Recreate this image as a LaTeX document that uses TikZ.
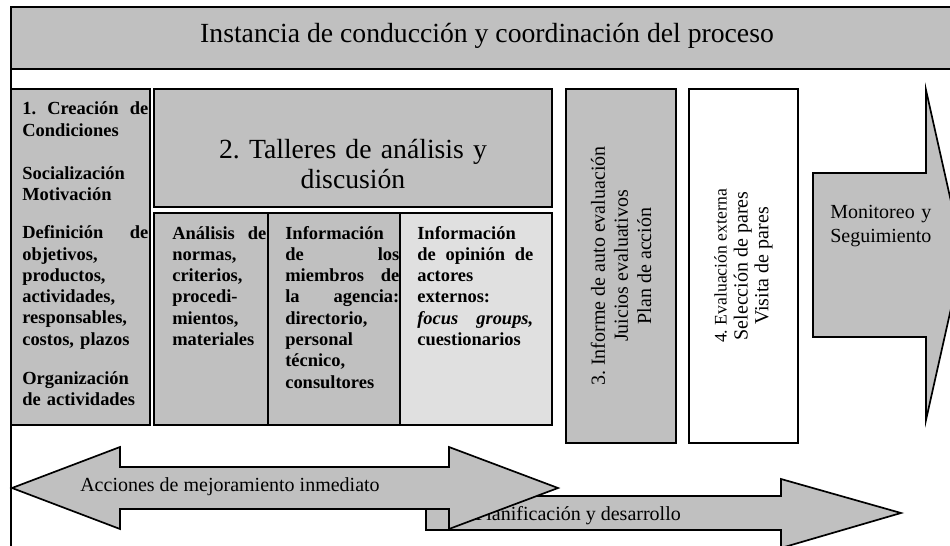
\documentclass[tikz,border=0pt]{standalone}
\usepackage{fontspec}
\setmainfont{Liberation Serif}
\usepackage{tikz}
\definecolor{boxgray}{RGB}{192,192,192}
\definecolor{palegray}{RGB}{224,224,224}
\frenchspacing
% justified line spread over the full text width
\newcommand{\spreadline}[1]{\makebox[\linewidth][s]{\spaceskip=0.25em plus 1fil\relax #1}}

\begin{document}
\begin{tikzpicture}[x=0.65pt, y=-0.65pt,
        panel/.style={line width=1.1pt, fill=boxgray},
        bigarrow/.style={line width=1.1pt, fill=boxgray, line join=miter},
        boldtext/.style={anchor=base west, inner sep=0pt, align=left, font=\fontsize{12}{13.85}\selectfont\bfseries},
        plaintext/.style={inner sep=0pt, font=\fontsize{13}{15}\selectfont}]

        \useasboundingbox (0,0) rectangle (950,546);
        \clip (0,0) rectangle (950,546);

        % Coordination banner and frame line
        \draw[panel] (11,7) rectangle (965,69);
        \node[anchor=base, inner sep=0pt, font=\fontsize{18}{20}\selectfont] (banner) at (487,43) {Instancia de conducción y coordinación del proceso};
        \draw[line width=1.1pt] (11,69) -- (11,546);

        % 1. Conditions
        \draw[panel] (11,89) rectangle (150,425);
        \node[boldtext, text width=81.9pt] (conditions) at (22,115) {\spreadline{1. Creación de}\\ Condiciones\\[14pt] Socialización\\ Motivación\\[11pt] \spreadline{Definición de}\\ objetivos,\\ productos,\\ actividades,\\ responsables,\\ costos, plazos\\[11.5pt] Organización\\ de actividades};

        % 2. Workshops header
        \draw[panel] (154,89) rectangle (552,207);
        \node[anchor=base, inner sep=0pt, text width=250pt, align=center, font=\fontsize{18}{19.5}\selectfont] (workshops) at (353,158) {2. Talleres de análisis y\\ discusión};

        % Workshop columns
        \foreach \xa/\xb/\c in {154/268/boxgray, 268/400/boxgray, 400/552/palegray} {
            \draw[line width=1.1pt, fill=\c] (\xa,213) rectangle (\xb,425);
        }
        \node[boldtext, text width=61.1pt] (norms) at (172,239) {\spreadline{Análisis de}\\ normas,\\ criterios,\\ procedi-\\ mientos,\\ materiales};
        \node[boldtext, text width=74.1pt] (members) at (285,239) {Información\\ \spreadline{de los}\\ \spreadline{miembros de}\\ \spreadline{la agencia:}\\ directorio,\\ personal\\ técnico,\\ consultores};
        \node[boldtext, text width=75.4pt] (actors) at (417,239) {Información\\ \spreadline{de opinión de}\\ actores\\ externos:\\ \spreadline{\itshape focus groups,}\\ cuestionarios};

        % 3. Self-assessment report
        \draw[panel] (566,89) rectangle (676,443);
        \node[plaintext, rotate=90, align=center] (selfreport) at (621,266) {3. Informe de auto evaluación\\ Juicios evaluativos\\ Plan de acción};

        % 4. External evaluation
        \draw[line width=1.1pt, fill=white] (689,89) rectangle (798,443);
        \node[plaintext, rotate=90, align=center, font=\fontsize{13}{13.6}\selectfont] (external) at (743.5,266) {{\fontsize{11.5}{13.6}\selectfont 4. Evaluación externa}\\ Selección de pares\\ Visita de pares};

        % Monitoring arrow
        \draw[bigarrow] (813,173) -- (926,173) -- (926,90) -- (963,255) -- (926,420) -- (926,337) -- (813,337) -- cycle;
        \node[plaintext, anchor=base west, text width=70pt, align=left, font=\fontsize{13}{15.6}\selectfont] (monitoring) at (830,218) {Monitoreo y\\ Seguimiento};

        % Planning arrow (behind)
        \draw[bigarrow] (426,496) -- (781,496) -- (781,479) -- (901,513) -- (781,548) -- (781,530) -- (426,530) -- cycle;
        \node[plaintext, anchor=base west] (planning) at (475,520) {Planificación y desarrollo};

        % Immediate improvement double arrow
        \draw[bigarrow] (12,488) -- (120,447) -- (120,467) -- (449,467) -- (449,447) -- (558,488) -- (449,529) -- (449,509) -- (120,509) -- (120,529) -- cycle;
        \node[plaintext, anchor=base west] (improvement) at (80,491) {Acciones de mejoramiento inmediato};

\end{tikzpicture}
\end{document}
